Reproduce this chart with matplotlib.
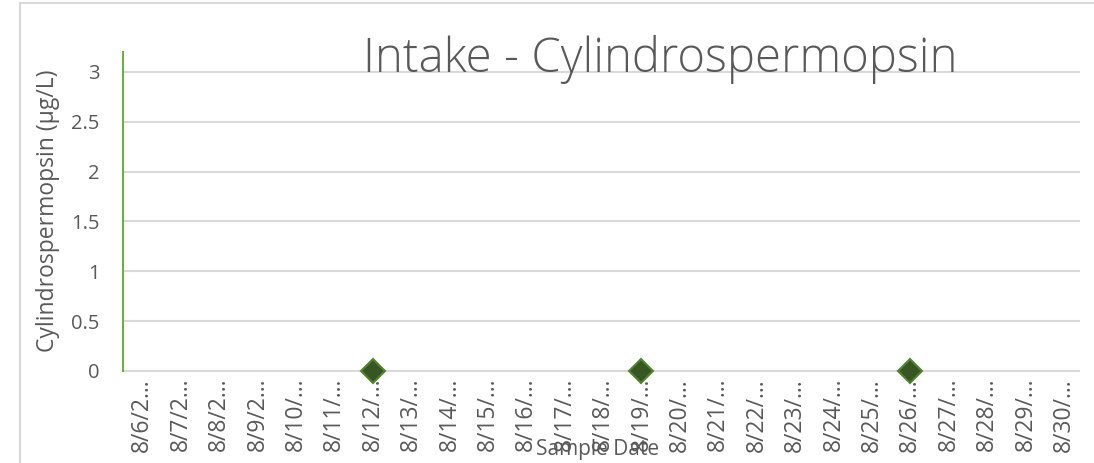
import matplotlib
matplotlib.use("Agg")
import matplotlib.pyplot as plt
from matplotlib.patches import Rectangle
import numpy as np

plt.rcParams['font.family'] = ['Open Sans', 'DejaVu Sans']

# sample dates, 8/6 through 8/30
dates = ["8/%d/2019" % d for d in range(6, 31)]
tick_labels = [d[:5] + "\u2026" for d in dates]

# measured samples (µg/L)
sample_dates = ["8/12/2019", "8/19/2019", "8/26/2019"]
sample_values = [0.0, 0.0, 0.0]

yticks = [0, 0.5, 1, 1.5, 2, 2.5, 3]
ytick_labels = ["0", "0.5", "1", "1.5", "2", "2.5", "3"]

gray = "#595959"
W, H = 1094, 463

fig = plt.figure(figsize=(W / 100, H / 100), dpi=100)
fig.patches.append(Rectangle((20 / W, -0.1), 1.2, (H - 3) / H + 0.1,
                             transform=fig.transFigure, fill=False,
                             edgecolor="#d9d9d9", linewidth=1.5))

ax = fig.add_axes([123 / W, 92 / H, 960 / W, 319 / H])
x = np.arange(len(dates))
idx = [dates.index(d) for d in sample_dates]

ax.plot(idx, sample_values, linestyle="none", marker="D", markersize=12,
        markerfacecolor="#375623", markeredgecolor="#548235",
        markeredgewidth=1.5, clip_on=False, zorder=5)

ax.set_xlim(-0.5, len(dates) - 0.5)
ax.set_ylim(0, 3.2)
ax.set_yticks(yticks)
ax.set_yticklabels(ytick_labels)
ax.set_xticks(x)
ax.set_xticklabels(tick_labels, rotation=90)

for y in yticks:
    ax.plot([-0.5, len(dates) - 0.6], [y, y], color="#d9d9d9",
            linewidth=1.5, zorder=1, clip_on=False)

for s in ["top", "right", "bottom"]:
    ax.spines[s].set_visible(False)
ax.spines["left"].set_color("#70ad47")
ax.spines["left"].set_linewidth(1.5)

ax.tick_params(axis="both", length=0, labelcolor=gray)
ax.tick_params(axis="y", pad=17, labelsize=14.5)
ax.tick_params(axis="x", pad=5, labelsize=16.5)

# axis titles placed by pixel like the original
fig.text(48 / W, 1 - 211 / H, "Cylindrospermopsin (\u03bcg/L)", fontsize=16.5,
         color=gray, ha="center", va="center", rotation=90)
fig.text(598 / W, 1 - 450 / H, "Sample Date", fontsize=15, color=gray,
         ha="center", va="center")

fig.text(660 / W, 1 - 60 / H, "Intake - Cylindrospermopsin", fontsize=34,
         color=gray, ha="center", va="center", fontweight="light")

fig.savefig("out.png", dpi=100)
